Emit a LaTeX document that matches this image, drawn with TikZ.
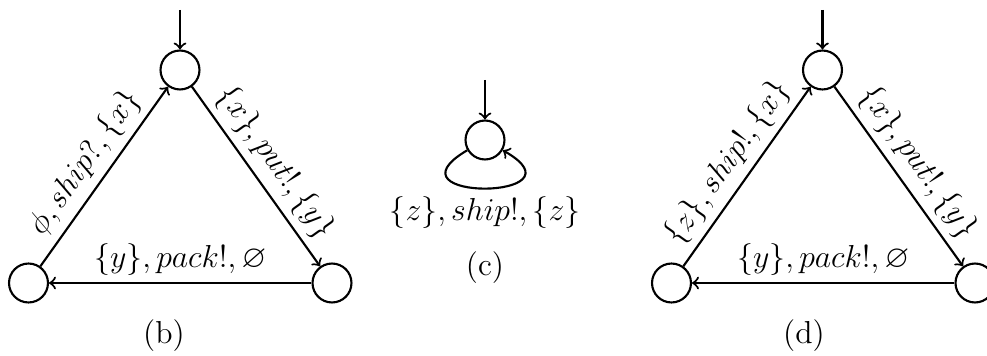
\documentclass[tikz,border=0pt]{standalone}
\usepackage{amssymb}
\begin{document}
\begin{tikzpicture}[x=0.3774pt,y=-0.3774pt,
  font=\fontsize{12}{14}\selectfont,
  state/.style={circle,draw,line width=0.8pt,minimum size=14.7pt,inner sep=0pt},
  trans/.style={->,line width=0.8pt},
  lbl/.style={inner sep=2.5pt}]
\clip (0,0) rectangle (987,356);
% (b)
\node[state] (bt) at (180,70) {};
\node[state] (bl) at (28.5,283) {};
\node[state] (br) at (332,283) {};
\coordinate (bi) at (180,10);
\draw[trans] (bi) -- (bt);
\draw[trans] (bl) -- node[lbl,sloped,above] {$\phi, ship?, \{x\}$} (bt);
\draw[trans] (bt) -- node[lbl,sloped,above] {$\{x\}, put!, \{y\}$} (br);
\draw[trans] (br) -- node[lbl,above] {$\{y\}, pack!, \varnothing$} (bl);
\node (capb) at (164,336) {(b)};
% (c)
\node[state] (c) at (485,140) {};
\coordinate (ci) at (485,80);
\draw[trans] (ci) -- (c);
\draw[trans] (c.210) .. controls +(-88,52) and +(88,50) .. (c.-30);
\node (cl) at (485,213) {$\{z\}, ship!, \{z\}$};
\node (capc) at (485,268) {(c)};
% (d)
\node[state] (dt) at (822.5,70) {};
\node[state] (dl) at (671.5,283) {};
\node[state] (dr) at (975,283) {};
\coordinate (di) at (822.5,10);
\draw[trans] (di) -- (dt);
\draw[trans] (dl) -- node[lbl,sloped,above] {$\{z\}, ship!, \{x\}$} (dt);
\draw[trans] (dt) -- node[lbl,sloped,above] {$\{x\}, put!, \{y\}$} (dr);
\draw[trans] (dr) -- node[lbl,above] {$\{y\}, pack!, \varnothing$} (dl);
\node (capd) at (804,336) {(d)};
\end{tikzpicture}
\end{document}
